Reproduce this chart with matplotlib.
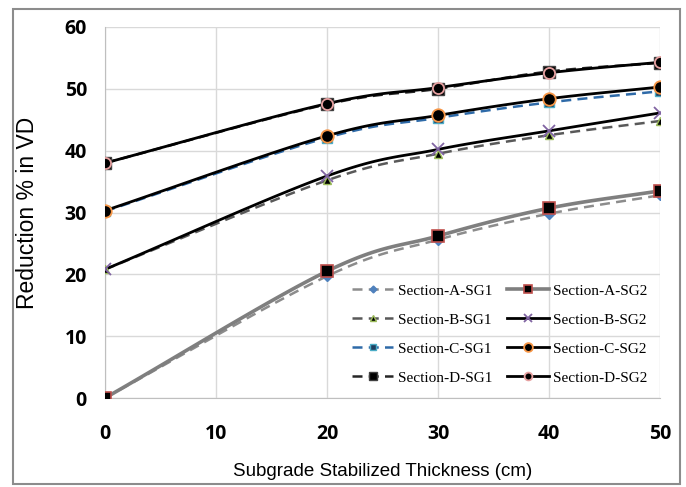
import numpy as np
import matplotlib
matplotlib.use("Agg")
import matplotlib.pyplot as plt
from matplotlib.patches import Rectangle

thickness = [0, 20, 30, 40, 50]
a_sg1 = [0.0, 19.7, 25.6, 29.8, 32.8]
a_sg2 = [0.0, 20.5, 26.2, 30.7, 33.5]
b_sg1 = [20.8, 35.2, 39.5, 42.5, 44.8]
b_sg2 = [20.8, 35.9, 40.2, 43.2, 46.1]
c_sg1 = [30.2, 42.1, 45.3, 47.8, 49.6]
c_sg2 = [30.3, 42.4, 45.7, 48.4, 50.3]
d_sg1 = [38.0, 47.5, 50.0, 52.8, 54.2]
d_sg2 = [38.0, 47.6, 50.2, 52.6, 54.3]
labels = ["Section-A-SG1", "Section-A-SG2", "Section-B-SG1", "Section-B-SG2",
          "Section-C-SG1", "Section-C-SG2", "Section-D-SG1", "Section-D-SG2"]

W, H = 686, 487


def smooth(x, y, n=30):
    # Catmull-Rom style smoothing (like Excel smoothed lines), used only for drawing
    x = np.asarray(x, float); y = np.asarray(y, float)
    px = np.concatenate([[2 * x[0] - x[1]], x, [2 * x[-1] - x[-2]]])
    py = np.concatenate([[2 * y[0] - y[1]], y, [2 * y[-1] - y[-2]]])
    xs, ys = [], []
    for i in range(1, len(px) - 2):
        t = np.linspace(0, 1, n, endpoint=(i == len(px) - 3))
        for P, out in ((px, xs), (py, ys)):
            p0, p1, p2, p3 = P[i - 1], P[i], P[i + 1], P[i + 2]
            b0, b1, b2, b3 = p1, p1 + (p2 - p0) / 6.0, p2 - (p3 - p1) / 6.0, p2
            out.extend((1 - t)**3 * b0 + 3 * (1 - t)**2 * t * b1 + 3 * (1 - t) * t**2 * b2 + t**3 * b3)
    return np.array(xs), np.array(ys)


fig = plt.figure(figsize=(W / 100, H / 100), dpi=100)
fig.patches.append(Rectangle((13 / W, 1 - 484 / H), 667 / W, 475 / H,
                             transform=fig.transFigure, fill=False,
                             edgecolor="#8c8c8c", linewidth=1.5))
ax = fig.add_axes([105 / W, 1 - 398 / H, 555 / W, 371 / H])

series = [
    (a_sg1, dict(color="#8c8c8c", ls=(0, (4, 2.5)), lw=1.8), dict(marker="D", ms=5, mfc="#4f81bd", mec="#4f81bd")),
    (a_sg2, dict(color="#7f7f7f", ls="-", lw=2.6), dict(marker="s", ms=8, mfc="black", mec="#c0504d", mew=1.2)),
    (b_sg1, dict(color="#595959", ls=(0, (4, 2.5)), lw=1.8), dict(marker="^", ms=6, mfc="black", mec="#9bbb59")),
    (b_sg2, dict(color="black", ls="-", lw=2.0), dict(marker="x", ms=8, mfc="none", mec="#8064a2", mew=1.3)),
    (c_sg1, dict(color="#2e6aa8", ls=(0, (4, 2.5)), lw=1.8), dict(marker="s", ms=7, mfc="#1f3f5f", mec="#4bacc6")),
    (c_sg2, dict(color="black", ls="-", lw=2.0), dict(marker="o", ms=9, mfc="black", mec="#f79646", mew=1.3)),
    (d_sg1, dict(color="#262626", ls=(0, (4, 2.5)), lw=1.8), dict(marker="s", ms=8, mfc="black", mec="#404040")),
    (d_sg2, dict(color="black", ls="-", lw=2.0), dict(marker="o", ms=8, mfc="black", mec="#e6a0a0", mew=1.3)),
]

handles = []
for (vals, lstyle, mstyle), lab in zip(series, labels):
    sx, sy = smooth(thickness, vals)
    ax.plot(sx, sy, zorder=3, **lstyle)
    ax.plot(thickness, vals, ls="none", zorder=4, **mstyle)
    ms_leg = dict(mstyle); ms_leg["ms"] = mstyle["ms"] * 0.7
    h, = ax.plot([], [], label=lab, **lstyle, **ms_leg)
    handles.append(h)

ax.set_xlim(0, 50)
ax.set_ylim(0, 60)
ax.set_xticks(range(0, 51, 10))
ax.set_yticks(range(0, 61, 10))
ax.grid(True, color="#d9d9d9", lw=1.0)
ax.set_axisbelow(True)
for s in ["top", "right"]:
    ax.spines[s].set_visible(False)
ax.spines["left"].set_color("#bfbfbf")
ax.spines["bottom"].set_color("#bfbfbf")
ax.tick_params(length=0)
ax.tick_params(axis="x", pad=19)
ax.tick_params(axis="y", pad=13)
for lbl in ax.get_xticklabels() + ax.get_yticklabels():
    lbl.set_fontfamily("Open Sans")
    lbl.set_fontweight("bold")
    lbl.set_fontsize(14)

ax.set_xlabel("Subgrade Stabilized Thickness (cm)", family="Liberation Sans", fontsize=13.5, va="center")
ax.xaxis.set_label_coords(0.5, (398 - 472) / 371)
ax.set_ylabel("Reduction % in VD", family="Liberation Sans", fontsize=16.5, va="center")
ax.yaxis.set_label_coords((28 - 105) / 555, 0.5)

order = [0, 2, 4, 6, 1, 3, 5, 7]
leg = ax.legend(handles=[handles[i] for i in order], ncol=2, loc="upper left",
                bbox_to_anchor=(352 / W, 1 - 284 / H), bbox_transform=fig.transFigure,
                frameon=False, prop={"family": "Liberation Serif", "size": 11},
                handlelength=2.7, columnspacing=1.0, labelspacing=1.0, handletextpad=0.3,
                borderpad=0, borderaxespad=0)

fig.savefig("out.png", dpi=100)
